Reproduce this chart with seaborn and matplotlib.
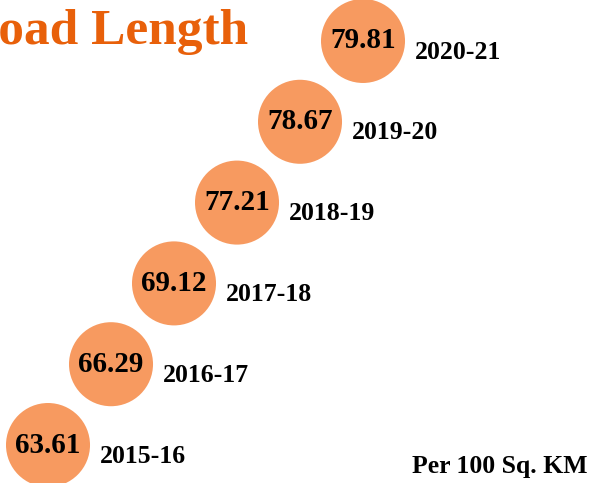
import matplotlib.pyplot as plt
import seaborn as sns
import pandas as pd

years = ['2015-16', '2016-17', '2017-18', '2018-19', '2019-20', '2020-21']
road_length = [63.61, 66.29, 69.12, 77.21, 78.67, 79.81]

df = pd.DataFrame({'Year': years, 'Length': road_length})
df['pos'] = range(len(df))

sns.set_style('white')
plt.rcParams['font.family'] = ['Liberation Serif', 'DejaVu Serif']

fig = plt.figure(figsize=(5.98, 4.83), dpi=100)
ax = fig.add_axes([0, 0, 1, 1])

# circles laid out on a diagonal, one per year
sns.scatterplot(x='pos', y='pos', data=df, s=3660, color='#F79A60',
                edgecolor='none', legend=False, ax=ax)

for _, row in df.iterrows():
    ax.text(row.pos, row.pos, '{:.2f}'.format(row.Length), ha='center', va='center',
            fontsize=21, fontweight='bold', color='black')
    ax.annotate(row.Year, (row.pos, row.pos), xytext=(37.5, -8), textcoords='offset points',
                ha='left', va='center', fontsize=18.5, fontweight='bold', color='black')

ax.set_xlim(-0.762, 8.73)
ax.set_ylim(-0.47, 5.507)
ax.axis('off')

# title is cut off at the left edge like in the original
fig.text(248 / 598, 1 - 44 / 483, 'Road Length', ha='right', va='baseline',
         fontsize=37, fontweight='bold', color='#E8600A')
fig.text(588 / 598, 1 - 466 / 483, 'Per 100 Sq. KM', ha='right', va='center',
         fontsize=18.5, fontweight='bold', color='black')

plt.savefig('out.png', dpi=100)
plt.close()
